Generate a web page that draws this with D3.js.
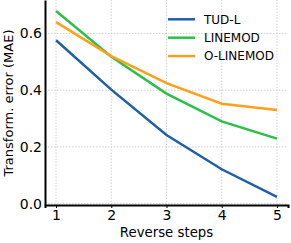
<!DOCTYPE html>
<html>
<head>
<meta charset="utf-8">
<script src="https://cdn.jsdelivr.net/npm/d3@7"></script>
<style>
  body { margin: 0; background: #fff; }
  text { font-family: "DejaVu Sans", sans-serif; }
</style>
</head>
<body>
<script>
var width = 291,
    height = 243;

var steps = [1, 2, 3, 4, 5];
var tudl = [0.576, 0.402, 0.242, 0.121, 0.024];
var linemod = [0.679, 0.518, 0.388, 0.290, 0.229];
var olinemod = [0.640, 0.520, 0.425, 0.352, 0.330];
var seriesNames = ["TUD-L", "LINEMOD", "O-LINEMOD"];
var colors = ["#1f5faa", "#2cbf4c", "#ffa01c"];
var yTicks = [0.0, 0.2, 0.4, 0.6];

var margin = {left: 45, right: 3, top: 0, bottom: 38};

var x = d3.scaleLinear()
    .domain([0.8, 5.2])
    .range([margin.left, width - margin.right]);

var y = d3.scaleLinear()
    .domain([-0.005, 0.718])
    .range([height - margin.bottom, margin.top]);

var svg = d3.select("body").append("svg")
    .attr("width", width)
    .attr("height", height);

// grid
svg.append("g")
  .selectAll("line")
  .data(steps)
  .enter().append("line")
    .attr("x1", function(d) { return x(d); })
    .attr("x2", function(d) { return x(d); })
    .attr("y1", y.range()[0])
    .attr("y2", y.range()[1])
    .attr("stroke", "#c8c8c8")
    .attr("stroke-width", 0.8)
    .attr("stroke-dasharray", "1.5,1.5");

svg.append("g")
  .selectAll("line")
  .data(yTicks)
  .enter().append("line")
    .attr("x1", x.range()[0])
    .attr("x2", x.range()[1])
    .attr("y1", function(d) { return y(d); })
    .attr("y2", function(d) { return y(d); })
    .attr("stroke", "#c8c8c8")
    .attr("stroke-width", 0.8)
    .attr("stroke-dasharray", "1.5,1.5");

// lines
var data = [tudl, linemod, olinemod];
var line = d3.line()
    .x(function(d, i) { return x(steps[i]); })
    .y(function(d) { return y(d); });

svg.append("g")
  .selectAll("path")
  .data(data)
  .enter().append("path")
    .attr("d", line)
    .attr("fill", "none")
    .attr("stroke", function(d, i) { return colors[i]; })
    .attr("stroke-width", 2.5);

// axes
var xAxis = svg.append("g")
    .attr("transform", "translate(0," + y.range()[0] + ")")
    .call(d3.axisBottom(x).tickValues(steps).tickFormat(d3.format("d")).tickSize(3).tickPadding(2));
xAxis.select(".domain").attr("stroke", "#000").attr("stroke-width", 2);
xAxis.selectAll("text").attr("font-size", 14).attr("fill", "#000");

var yAxis = svg.append("g")
    .attr("transform", "translate(" + x.range()[0] + ",0)")
    .call(d3.axisLeft(y).tickValues(yTicks).tickFormat(d3.format(".1f")).tickSize(0).tickPadding(3));
yAxis.select(".domain").attr("stroke", "#000").attr("stroke-width", 2);
yAxis.selectAll("text").attr("font-size", 14).attr("fill", "#000");

svg.append("text")
    .attr("x", (x.range()[0] + x.range()[1]) / 2)
    .attr("y", 237)
    .attr("text-anchor", "middle")
    .attr("font-size", 13.3)
    .text("Reverse steps");

svg.append("text")
    .attr("transform", "translate(13,103) rotate(-90)")
    .attr("text-anchor", "middle")
    .attr("font-size", 13)
    .text("Transform. error (MAE)");

// legend
var legend = svg.append("g")
  .selectAll("g")
  .data(seriesNames)
  .enter().append("g")
    .attr("transform", function(d, i) { return "translate(168," + (19.3 + i * 18.4) + ")"; });

legend.append("line")
    .attr("x1", 0).attr("x2", 27)
    .attr("stroke", function(d, i) { return colors[i]; })
    .attr("stroke-width", 2.5);

legend.append("text")
    .attr("x", 36)
    .attr("dy", "0.35em")
    .attr("font-size", 12)
    .text(function(d) { return d; });
</script>
</body>
</html>
